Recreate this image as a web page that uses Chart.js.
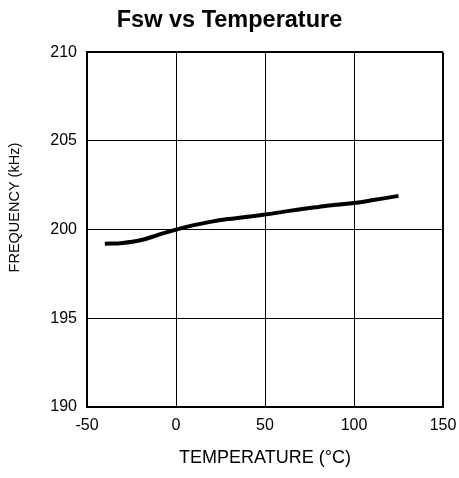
<!DOCTYPE html>
<html>
<head>
<meta charset="utf-8">
<script src="https://cdn.jsdelivr.net/npm/chart.js@4"></script>
<style>
  html, body { margin: 0; padding: 0; background: #fff; }
  #wrap { width: 459px; height: 478px; }
</style>
</head>
<body>
<div id="wrap"><canvas id="fswChart" width="459" height="478"></canvas></div>
<script>
// Data
const temperatures = [-40, -30, -20, -10, 0, 10, 20, 30, 40, 50, 60, 70, 80, 90, 100, 110, 125];
const frequencies = [199.2, 199.25, 199.4, 199.7, 200.0, 200.25, 200.45, 200.6, 200.72, 200.85, 201.0, 201.15, 201.28, 201.4, 201.5, 201.65, 201.9];
const xTicks = [-50, 0, 50, 100, 150];
const yTicks = [190, 195, 200, 205, 210];

const FONT = "'Liberation Sans', Arial, sans-serif";

// Y axis title sits a bit above the axis centre in the reference
const yTitlePlugin = {
    id: 'yTitle',
    afterDraw(chart) {
        const ctx = chart.ctx;
        ctx.save();
        ctx.translate(15, chart.chartArea.top + (chart.chartArea.bottom - chart.chartArea.top) / 2 - 22);
        ctx.rotate(-Math.PI / 2);
        ctx.font = '14.5px ' + FONT;
        ctx.fillStyle = '#000';
        ctx.textAlign = 'center';
        ctx.textBaseline = 'middle';
        ctx.fillText('FREQUENCY (kHz)', 0, 0);
        ctx.restore();
    }
};

const points = temperatures.map((t, i) => ({ x: t, y: frequencies[i] }));

new Chart(document.getElementById('fswChart').getContext('2d'), {
    type: 'line',
    data: {
        datasets: [{
            data: points,
            borderColor: '#000',
            borderWidth: 4,
            pointRadius: 0,
            tension: 0.4,
            fill: false
        }]
    },
    options: {
        responsive: false,
        animation: false,
        layout: { padding: { left: 16, right: 16, top: 0, bottom: 0 } },
        plugins: {
            legend: { display: false },
            tooltip: { enabled: false },
            title: {
                display: true,
                text: 'Fsw vs Temperature',
                color: '#000',
                font: { family: FONT, size: 23.5, weight: 'bold' },
                padding: { top: 6, bottom: 18 }
            }
        },
        scales: {
            x: {
                type: 'linear',
                min: -50,
                max: 150,
                afterBuildTicks: axis => { axis.ticks = xTicks.map(v => ({ value: v })); },
                afterFit: axis => {
                    axis.height = 71;
                    axis.paddingLeft = 0;
                    axis.paddingRight = 0;
                },
                border: { display: true, color: '#000', width: 2 },
                grid: {
                    color: '#000',
                    drawTicks: false,
                    lineWidth: c => (c.tick && (c.tick.value === -50 || c.tick.value === 150)) ? 2 : 1
                },
                ticks: {
                    color: '#000',
                    padding: 9,
                    maxRotation: 0,
                    font: { family: FONT, size: 16 }
                },
                title: {
                    display: true,
                    text: 'TEMPERATURE (°C)',
                    color: '#000',
                    font: { family: FONT, size: 18 },
                    padding: { top: 0, bottom: 9 }
                }
            },
            y: {
                type: 'linear',
                min: 190,
                max: 210,
                afterBuildTicks: axis => { axis.ticks = yTicks.map(v => ({ value: v })); },
                afterFit: axis => { axis.width = 71; },
                border: { display: true, color: '#000', width: 2 },
                grid: {
                    color: '#000',
                    drawTicks: false,
                    lineWidth: c => (c.tick && (c.tick.value === 190 || c.tick.value === 210)) ? 2 : 1
                },
                ticks: {
                    color: '#000',
                    padding: 10,
                    font: { family: FONT, size: 16 }
                }
            }
        }
    },
    plugins: [yTitlePlugin]
});
</script>
</body>
</html>
